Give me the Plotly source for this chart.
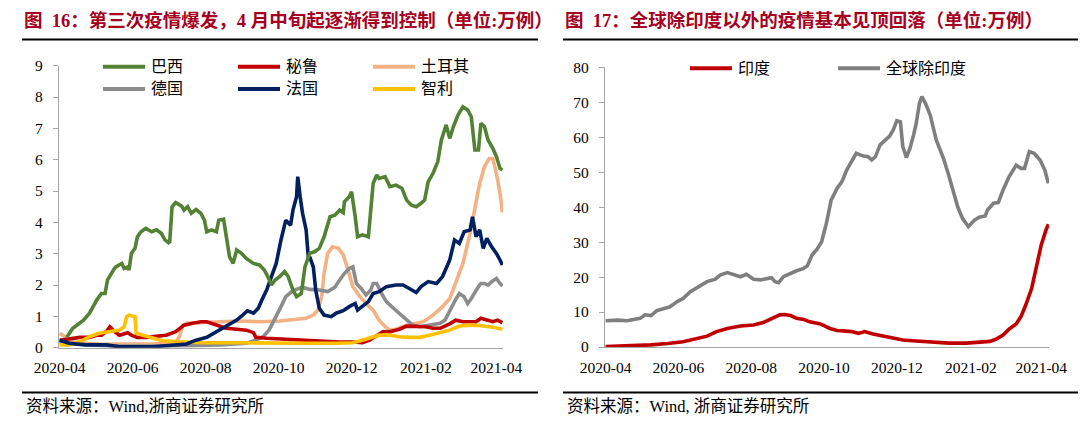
import pandas as pd
import plotly.graph_objects as go

W, H = 1080, 423
START = pd.Timestamp("2020-04-01")

# ---------------- data: left panel (万例), day offsets from 2020-04-01 ----------------
brazil_day = [6, 11, 20, 25, 31, 35, 38, 40, 45, 47, 52, 54, 57, 58, 60, 63, 65, 68, 72, 77, 81, 85, 88, 91, 92, 94,
              97, 102, 104, 107, 110, 114, 118, 121, 123, 127, 131, 133, 137, 139, 142, 145, 148, 152, 156, 162, 167,
              171, 174, 177, 180, 184, 188, 191, 195, 198, 202, 205, 209, 213, 217, 221, 226, 230, 234, 237, 238, 242,
              244, 247, 249, 253, 258, 262, 265, 267, 272, 276, 281, 286, 290, 294, 298, 302, 305, 308, 312, 316, 319,
              323, 326, 329, 333, 337, 341, 344, 347, 350, 352, 355, 358, 362, 365, 368, 370]
brazil = [0.33, 0.62, 0.88, 1.10, 1.52, 1.73, 1.73, 2.16, 2.48, 2.58, 2.69, 2.53, 2.58, 2.48, 3.01, 3.17, 3.54, 3.70,
          3.81, 3.70, 3.76, 3.65, 3.44, 3.35, 3.38, 4.50, 4.63, 4.52, 4.39, 4.50, 4.29, 4.41, 4.29, 4.07, 3.70, 3.76,
          3.70, 4.07, 4.10, 3.54, 2.90, 2.69, 3.12, 3.01, 2.85, 2.69, 2.64, 2.48, 2.27, 2.00, 2.16, 2.27, 2.43, 2.27,
          1.84, 1.63, 1.73, 2.58, 3.01, 3.06, 3.17, 3.54, 4.18, 4.23, 4.39, 4.31, 4.66, 4.82, 4.98, 4.18, 3.54, 3.60,
          3.54, 5.24, 5.51, 5.40, 5.46, 5.14, 5.19, 5.09, 4.71, 4.55, 4.50, 4.61, 4.71, 5.30, 5.56, 5.94, 6.63, 7.11,
          6.68, 7.05, 7.43, 7.69, 7.59, 7.37, 6.31, 6.31, 7.16, 7.05, 6.63, 6.36, 6.10, 5.72, 5.67]

peru_day = [0, 8, 17, 25, 31, 35, 39, 42, 46, 50, 54, 57, 60, 65, 72, 81, 89, 97, 100, 104, 111, 118, 123, 128, 134,
            139, 148, 156, 162, 164, 173, 184, 195, 209, 223, 234, 245, 253, 259, 265, 270, 276, 284, 290, 298, 306,
            312, 318, 326, 331, 337, 343, 348, 352, 357, 362, 366, 370]
peru = [0.24, 0.27, 0.33, 0.33, 0.40, 0.40, 0.51, 0.67, 0.51, 0.40, 0.46, 0.48, 0.40, 0.33, 0.33, 0.37, 0.40, 0.51,
        0.59, 0.72, 0.78, 0.83, 0.83, 0.76, 0.69, 0.62, 0.59, 0.56, 0.48, 0.33, 0.30, 0.28, 0.24, 0.22, 0.20, 0.18,
        0.18, 0.16, 0.24, 0.40, 0.51, 0.51, 0.59, 0.69, 0.67, 0.67, 0.62, 0.62, 0.76, 0.88, 0.83, 0.83, 0.83, 0.94,
        0.88, 0.83, 0.88, 0.80]

turkey_day = [0, 6, 11, 22, 36, 50, 64, 78, 89, 97, 100, 103, 106, 114, 134, 150, 167, 184, 198, 206, 212, 216, 219,
              221, 224, 228, 233, 237, 241, 245, 251, 256, 262, 267, 272, 276, 281, 290, 298, 304, 312, 320, 326, 331,
              337, 343, 347, 351, 355, 359, 362, 365, 368, 370]
turkey = [0.46, 0.33, 0.19, 0.14, 0.11, 0.12, 0.11, 0.12, 0.14, 0.16, 0.35, 0.72, 0.78, 0.80, 0.83, 0.85, 0.83, 0.85,
          0.90, 0.94, 1.04, 1.20, 1.63, 2.37, 3.01, 3.22, 3.17, 2.96, 2.48, 1.95, 1.63, 1.41, 1.20, 0.88, 0.67, 0.56,
          0.59, 0.72, 0.78, 0.83, 1.04, 1.31, 1.57, 2.05, 2.69, 3.65, 4.50, 5.24, 5.78, 6.04, 6.04, 5.56, 4.93, 4.32]

germany_day = [0, 8, 22, 50, 78, 106, 134, 156, 164, 170, 175, 181, 185, 189, 194, 198, 203, 209, 217, 224, 230, 234,
               238, 242, 245, 248, 252, 256, 260, 262, 265, 269, 273, 279, 284, 290, 295, 301, 309, 318, 322, 326, 330,
               334, 338, 341, 344, 350, 352, 355, 358, 361, 365, 368, 370]
germany = [0.16, 0.14, 0.09, 0.05, 0.05, 0.06, 0.09, 0.14, 0.24, 0.35, 0.56, 0.99, 1.31, 1.63, 1.79, 1.86, 1.93, 1.86,
           1.84, 1.79, 1.93, 2.16, 2.37, 2.53, 2.58, 2.05, 1.89, 1.68, 1.84, 2.05, 2.05, 1.73, 1.47, 1.26, 1.10, 0.88,
           0.72, 0.67, 0.72, 0.78, 0.88, 1.20, 1.47, 1.73, 1.63, 1.41, 1.57, 1.95, 2.05, 2.05, 2.00, 2.11, 2.21, 2.05,
           1.97]

france_day = [0, 8, 22, 39, 50, 78, 106, 114, 123, 131, 139, 148, 153, 157, 162, 166, 169, 173, 177, 181, 185, 189,
              193, 195, 198, 199, 201, 203, 206, 208, 209, 212, 214, 217, 221, 227, 231, 237, 242, 247, 249, 253, 258,
              262, 267, 273, 281, 287, 292, 298, 302, 308, 315, 320, 326, 330, 334, 338, 343, 345, 348, 351, 354, 357,
              361, 365, 368, 370]
france = [0.24, 0.14, 0.09, 0.09, 0.03, 0.03, 0.12, 0.24, 0.33, 0.51, 0.67, 0.88, 1.04, 1.18, 1.10, 1.26, 1.52, 1.84,
          2.27, 2.69, 3.44, 4.07, 3.91, 4.39, 4.82, 5.46, 4.82, 4.29, 3.76, 2.80, 2.90, 2.58, 1.84, 1.26, 1.04, 0.99,
          1.10, 1.18, 1.31, 1.41, 1.20, 1.31, 1.47, 1.73, 1.79, 1.95, 2.00, 2.00, 1.89, 1.76, 1.95, 2.11, 2.05, 2.27,
          2.80, 3.44, 3.33, 3.70, 3.76, 4.18, 3.54, 3.76, 3.17, 3.49, 3.22, 3.01, 2.80, 2.64]

chile_day = [0, 8, 17, 25, 33, 42, 50, 54, 56, 58, 63, 64, 70, 78, 86, 100, 120, 148, 175, 203, 231, 245, 253, 262,
             267, 276, 284, 292, 301, 309, 318, 326, 334, 343, 351, 357, 362, 370]
chile = [0.09, 0.09, 0.19, 0.35, 0.46, 0.51, 0.56, 0.67, 0.99, 1.04, 0.99, 0.46, 0.40, 0.30, 0.22, 0.19, 0.16, 0.16,
         0.14, 0.14, 0.14, 0.16, 0.24, 0.35, 0.40, 0.40, 0.35, 0.33, 0.33, 0.40, 0.48, 0.56, 0.69, 0.72, 0.71, 0.69,
         0.65, 0.59]

# ---------------- data: right panel (万例) ----------------
india_day = [0, 24, 38, 52, 65, 74, 85, 93, 102, 113, 124, 132, 139, 146, 150, 155, 160, 166, 171, 180, 188, 194, 199,
             206, 212, 217, 224, 233, 241, 249, 260, 274, 288, 302, 313, 322, 327, 333, 338, 344, 348, 352, 357, 361,
             365, 369, 371]
india = [0.1, 0.3, 0.6, 1.0, 1.5, 2.2, 3.1, 4.4, 5.3, 6.0, 6.3, 7.0, 8.2, 9.2, 9.3, 9.0, 8.2, 7.9, 7.2, 6.6, 5.3, 4.7,
         4.6, 4.4, 3.9, 4.4, 3.7, 3.0, 2.4, 2.0, 1.7, 1.3, 1.1, 1.1, 1.4, 1.6, 2.2, 3.4, 5.1, 6.6, 8.7, 12.0, 16.8,
         23.0, 29.2, 33.5, 35.1]

world_ex_day = [0, 10, 18, 26, 29, 33, 38, 43, 49, 54, 60, 65, 71, 78, 85, 92, 96, 102, 107, 113, 118, 124, 130, 135,
                139, 142, 145, 149, 155, 160, 166, 169, 173, 177, 181, 185, 189, 194, 198, 202, 206, 210, 216, 220,
                223, 226, 230, 234, 238, 241, 244, 247, 249, 252, 255, 258, 260, 263, 265, 268, 272, 277, 283, 287,
                291, 295, 299, 304, 309, 313, 318, 320, 325, 329, 333, 338, 344, 348, 351, 355, 359, 364, 368, 371]
world_ex = [7.5, 7.7, 7.5, 7.9, 8.2, 9.2, 9.0, 10.4, 11.1, 11.5, 13.0, 13.9, 15.8, 17.3, 18.7, 19.4, 20.6, 21.3, 20.8,
            20.1, 20.8, 19.4, 19.2, 19.6, 19.8, 18.7, 18.4, 20.1, 21.1, 21.8, 22.5, 23.2, 26.3, 27.9, 30.1, 35.4, 42.0,
            45.4, 47.3, 50.6, 53.0, 55.4, 54.6, 54.4, 53.5, 54.4, 57.8, 59.2, 60.3, 62.1, 64.7, 64.4, 57.3, 54.2,
            56.8, 60.6, 63.5, 69.7, 71.6, 69.7, 66.3, 59.2, 54.0, 49.7, 44.4, 40.1, 36.8, 34.4, 36.3, 37.1, 37.5,
            39.2, 41.1, 41.3, 44.9, 48.7, 52.0, 51.1, 51.1, 55.9, 55.4, 53.5, 50.6, 46.8]

tick_dates = ["2020-04-01", "2020-06-01", "2020-08-01", "2020-10-01", "2020-12-01", "2021-02-01", "2021-04-01"]
tick_labels = ["2020-04", "2020-06", "2020-08", "2020-10", "2020-12", "2021-02", "2021-04"]

left_names = ["巴西", "秘鲁", "土耳其", "德国", "法国", "智利"]
right_names = ["印度", "全球除印度"]

title_left = "图  16：第三次疫情爆发，4 月中旬起逐渐得到控制（单位:万例）"
title_right = "图  17：全球除印度以外的疫情基本见顶回落（单位:万例）"
source_left = "资料来源：Wind,浙商证券研究所"
source_right = "资料来源：Wind, 浙商证券研究所"


def to_dates(days):
    return [START + pd.Timedelta(days=d) for d in days]


def px(x):
    return x / W


def py(y):
    return 1 - y / H


FONT = "Liberation Serif, Noto Sans CJK SC"
COL_LEFT = ["#548235", "#C00000", "#F4B183", "#8C8C8C", "#002060", "#FFC000"]
COL_RIGHT = ["#C00000", "#7F7F7F"]

fig = go.Figure()
left_series = [(brazil_day, brazil), (peru_day, peru), (turkey_day, turkey),
               (germany_day, germany), (france_day, france), (chile_day, chile)]
order = [2, 3, 1, 5, 4, 0]
for i in order:
    d, v = left_series[i]
    fig.add_trace(go.Scatter(x=to_dates(d), y=v, mode="lines", name=left_names[i],
                             line=dict(color=COL_LEFT[i], width=3.6), xaxis="x", yaxis="y",
                             showlegend=False))
fig.add_trace(go.Scatter(x=to_dates(world_ex_day), y=world_ex, mode="lines", name=right_names[1],
                         line=dict(color=COL_RIGHT[1], width=3.6), xaxis="x2", yaxis="y2", showlegend=False))
fig.add_trace(go.Scatter(x=to_dates(india_day), y=india, mode="lines", name=right_names[0],
                         line=dict(color=COL_RIGHT[0], width=3.6), xaxis="x2", yaxis="y2", showlegend=False))

axis_col = "#A6A6A6"
xcommon = dict(type="date", tickmode="array", tickvals=tick_dates, ticktext=tick_labels, automargin=False,
               showline=True, linecolor=axis_col, linewidth=1.3, ticks="", showgrid=False, zeroline=False,
               tickfont=dict(family=FONT, size=15.5, color="#000000"), ticklabelstandoff=6)
ycommon = dict(showline=True, linecolor=axis_col, linewidth=1.3, ticks="outside", ticklen=5, tickcolor=axis_col,
               tickwidth=1.3, showgrid=False, zeroline=False, automargin=False,
               tickfont=dict(family=FONT, size=15.5, color="#000000"), ticklabelstandoff=7)

xr = [START - pd.Timedelta(hours=12), START + pd.Timedelta(days=370.5)]
fig.update_layout(
    template="none",
    width=W, height=H, margin=dict(l=0, r=0, t=0, b=0, pad=0, autoexpand=False),
    paper_bgcolor="white", plot_bgcolor="white",
    hovermode=False,
    xaxis=dict(domain=[px(59), px(503)], anchor="y", range=xr, **xcommon),
    yaxis=dict(domain=[py(347.7), py(65.7)], anchor="x", range=[0, 9], dtick=1, **ycommon),
    xaxis2=dict(domain=[px(605), px(1049)], anchor="y2",
                range=[START - pd.Timedelta(hours=12), START + pd.Timedelta(days=371.5)], **xcommon),
    yaxis2=dict(domain=[py(347), py(67.3)], anchor="x2", range=[0, 80], dtick=10, **ycommon),
)

shapes = []
annotations = []
for x0, x1, t, s in [(22, 538, title_left, source_left), (563, 1078, title_right, source_right)]:
    annotations.append(dict(x=px(x0), y=py(21), xref="paper", yref="paper", xanchor="left", yanchor="middle",
                            text="<b>" + t + "</b>", showarrow=False,
                            font=dict(family=FONT, size=18.5, color="#A50021")))
    annotations.append(dict(x=px(x0 + 2), y=py(406), xref="paper", yref="paper", xanchor="left", yanchor="middle",
                            text=s, showarrow=False, font=dict(family=FONT, size=16.5, color="#000000")))
    for yy in (39.5, 392.5):
        shapes.append(dict(type="line", xref="paper", yref="paper", x0=px(x0), x1=px(x1), y0=py(yy), y1=py(yy),
                           line=dict(color="#000000", width=2)))

left_leg = [(103, 66.7, 0), (238, 66.7, 1), (373, 66.7, 2), (103, 89, 3), (238, 89, 4), (373, 89, 5)]
for x0, yy, i in left_leg:
    shapes.append(dict(type="line", xref="paper", yref="paper", x0=px(x0), x1=px(x0 + 42), y0=py(yy), y1=py(yy),
                       line=dict(color=COL_LEFT[i], width=4)))
    annotations.append(dict(x=px(x0 + 46), y=py(yy), xref="paper", yref="paper", xanchor="left", yanchor="middle",
                            text=left_names[i], showarrow=False, font=dict(family=FONT, size=16, color="#000000")))
right_leg = [(690, 68.3, 0), (838, 68.3, 1)]
for x0, yy, i in right_leg:
    shapes.append(dict(type="line", xref="paper", yref="paper", x0=px(x0), x1=px(x0 + 42), y0=py(yy), y1=py(yy),
                       line=dict(color=COL_RIGHT[i], width=4)))
    annotations.append(dict(x=px(x0 + 46), y=py(yy), xref="paper", yref="paper", xanchor="left", yanchor="middle",
                            text=right_names[i], showarrow=False, font=dict(family=FONT, size=16, color="#000000")))

fig.update_layout(shapes=shapes, annotations=annotations)
fig.write_html("out.html", config={"displayModeBar": False},
               post_script="document.body.style.margin='0';")
